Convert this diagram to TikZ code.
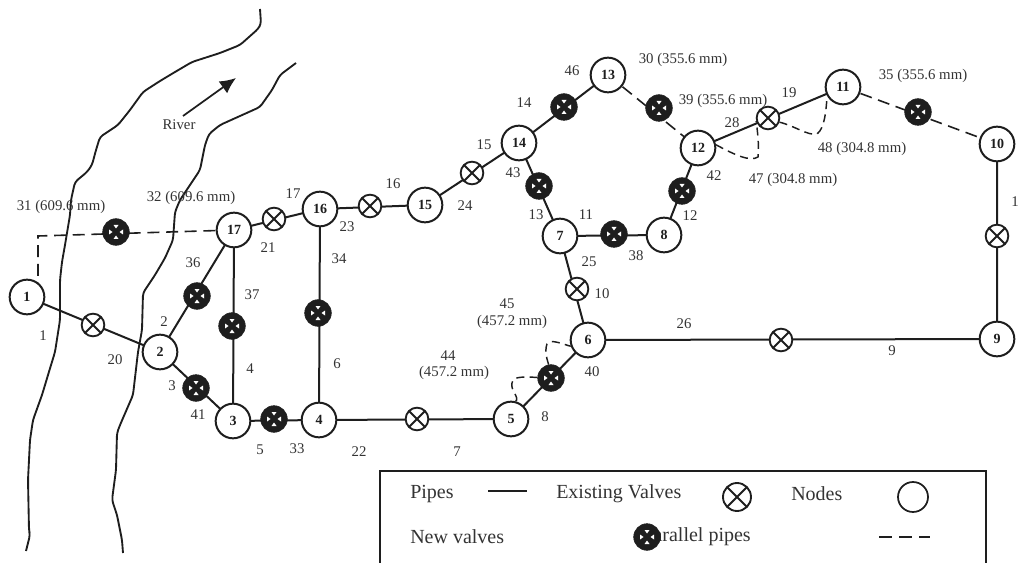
\documentclass[tikz,border=0pt]{standalone}
\usepackage{fontspec}
\setmainfont{Liberation Serif}
\usetikzlibrary{arrows.meta}
\definecolor{ink}{HTML}{1E1E1E}
\definecolor{txt}{HTML}{333333}
\tikzset{
  pnode/.style={circle,draw=ink,line width=1.5pt,fill=white,minimum size=26,inner sep=0pt,font=\fontsize{10.5pt}{12pt}\selectfont\bfseries,text=ink},
  evalve/.style={circle,draw=ink,line width=1.4pt,fill=white,minimum size=17,inner sep=0pt,
    path picture={\draw[ink,line width=1.4pt] (path picture bounding box.south west)--(path picture bounding box.north east) (path picture bounding box.north west)--(path picture bounding box.south east);}},
  nvalve/.style={circle,draw=ink,line width=0.4pt,fill=ink,minimum size=20,inner sep=0pt,
    path picture={\fill[white,shift={(path picture bounding box.center)}]
      (-3.5,0)--(-7,-2.5)--(-7,2.5)--cycle (3.5,0)--(7,-2.5)--(7,2.5)--cycle
      (0,-3.5)--(-2.5,-7)--(2.5,-7)--cycle (0,3.5)--(-2.5,7)--(2.5,7)--cycle;}},
  pipe/.style={draw=ink,line width=1.5pt},
  pdash/.style={draw=ink,line width=1.2pt,dash pattern=on 9pt off 5pt},
  cdash/.style={draw=ink,line width=1.1pt,dash pattern=on 6pt off 4pt},
  bank/.style={draw=ink,line width=1.4pt,line join=round,rounded corners=2.5pt},
  lab/.style={font=\fontsize{11.1pt}{13pt}\selectfont,text=txt,inner sep=0pt},
  leg/.style={font=\fontsize{15pt}{17pt}\selectfont,text=txt,inner sep=0pt},
}
\begin{document}
\begin{tikzpicture}[x=0.75pt,y=-0.75pt]
\useasboundingbox (0,0) rectangle (1018,563);
\clip (0,0) rectangle (1018,563);
% river
\draw[bank] (260,9)--(261,24)--(258,29)--(240,45)--(220,53)--(192,62)--(175,72)--(160,81)--(143,92)--(130,110)--(118,125)--(100,137)--(96,150)--(92,165)--(87,172)--(75,182)--(71,200)--(70,215)--(65,245)--(62,262)--(60,280)--(60,320)--(55,352)--(48,375)--(42,395)--(33,420)--(30,440)--(28,480)--(29,530)--(30,535)--(26,551);
\draw[bank] (296,63)--(280,75)--(272,90)--(260,107)--(240,116)--(220,125)--(209,134)--(205,145)--(200,170)--(190,185)--(180,200)--(175,212)--(173,240)--(165,258)--(155,275)--(143,293)--(142,330)--(138,352)--(133,395)--(120,425)--(117,433)--(116,470)--(112,500)--(117,515)--(122,540)--(123,553);
\coordinate (ra) at (183,116);
\coordinate (rb) at (236,78);
\draw[draw=ink,line width=1.3pt,-{Latex[length=12,width=11]}] (ra)--(rb);
\node[lab] (river) at (179,125) {River};
% coordinates of nodes
\coordinate (c1) at (27,297); \coordinate (c2) at (160,352); \coordinate (c3) at (233,421);
\coordinate (c4) at (319,420); \coordinate (c5) at (511,419); \coordinate (c6) at (588,340);
\coordinate (c7) at (560,236); \coordinate (c8) at (664,235); \coordinate (c9) at (997,339);
\coordinate (c10) at (997,144); \coordinate (c11) at (843,87); \coordinate (c12) at (698,148);
\coordinate (c13) at (608,75); \coordinate (c14) at (519,143); \coordinate (c15) at (425,205);
\coordinate (c16) at (320,209); \coordinate (c17) at (234,230); \coordinate (corner) at (38,236);
% pipes
\draw[pipe] (c1)--(c2) (c2)--(c17) (c2)--(c3) (c17)--(c3) (c16)--(c4) (c3)--(c4) (c4)--(c5) (c5)--(c6) (c6)--(c7) (c6)--(c9) (c9)--(c10) (c7)--(c14) (c7)--(c8) (c8)--(c12) (c12)--(c11) (c14)--(c13) (c14)--(c15) (c15)--(c16) (c16)--(c17);
\draw[pdash] (c17)--(corner)--(corner|-c1);
\draw[pdash] (c13)--(c12);
\draw[pdash] (c11)--(c10);
% nodes
\foreach \n in {1,...,17} {\node[pnode] (n\n) at (c\n) {\n};}
% existing valves
\node[evalve] (v20) at (93,325) {};
\node[evalve] (v21) at (274,219) {};
\node[evalve] (v23) at (370,206) {};
\node[evalve] (v24) at (472,173) {};
\node[evalve] (v25) at (577,289) {};
\node[evalve] (v22) at (417,419) {};
\node[evalve] (v26) at (781,340) {};
\node[evalve] (v28) at (768,118) {};
\node[evalve] (v27) at (997,236) {};
% new valves
\node[nvalve] (w31) at (116,232) {};
\node[nvalve] (w36) at (197,296) {};
\node[nvalve] (w37) at (232,326) {};
\node[nvalve] (w34) at (318,313) {};
\node[nvalve] (w41) at (196,388) {};
\node[nvalve] (w33) at (274,419) {};
\node[nvalve] (w40) at (551,378) {};
\node[nvalve] (w43) at (539,186) {};
\node[nvalve] (w38) at (614,234) {};
\node[nvalve] (w42) at (682,191) {};
\node[nvalve] (w46) at (564,107) {};
\node[nvalve] (w39) at (659,108) {};
\node[nvalve] (w35) at (918,112) {};
% curved parallel pipes
\draw[cdash] (n12.10) .. controls (735,155) and (750,162) .. (758,157) .. controls (759,145) and (758,135) .. (v28.195);
\draw[cdash] (v28.-20) .. controls (795,126) and (808,136) .. (817,134) .. controls (825,128) and (826,110) .. (n11.-150);
\draw[cdash] (n5.75) .. controls (520,398) and (510,390) .. (512,383) .. controls (512,378) and (518,376) .. (w40.178);
\draw[cdash] (w40.100) .. controls (548,362) and (544,352) .. (547,344) .. controls (550,338) and (565,345) .. (n6.200);
% labels
\node[lab] (l31) at (61,207) {31 (609.6 mm)};
\node[lab] (l32) at (191,198) {32 (609.6 mm)};
\node[lab] (l17) at (293,194) {17};
\node[lab] (l21) at (268,248) {21};
\node[lab] (l36) at (193,263) {36};
\node[lab] (l37) at (252,295) {37};
\node[lab] (l34) at (339,259) {34};
\node[lab] (l2) at (164,322) {2};
\node[lab] (l1) at (43,336) {1};
\node[lab] (l20) at (115,360) {20};
\node[lab] (l3) at (172,386) {3};
\node[lab] (l41) at (198,415) {41};
\node[lab] (l4) at (250,369) {4};
\node[lab] (l6) at (337,364) {6};
\node[lab] (l5) at (260,450) {5};
\node[lab] (l33) at (297,449) {33};
\node[lab] (l22) at (359,452) {22};
\node[lab] (l7) at (457,452) {7};
\node[lab] (l8) at (545,417) {8};
\node[lab] (l40) at (592,372) {40};
\node[lab] (l44) at (448,356) {44};
\node[lab] (l44b) at (454,373) {(457.2 mm)};
\node[lab] (l45) at (507,304) {45};
\node[lab] (l45b) at (512,322) {(457.2 mm)};
\node[lab] (l26) at (684,324) {26};
\node[lab] (l9) at (892,351) {9};
\node[lab] (l10) at (602,294) {10};
\node[lab] (l25) at (589,262) {25};
\node[lab] (l13) at (536,215) {13};
\node[lab] (l11) at (586,215) {11};
\node[lab] (l38) at (636,256) {38};
\node[lab] (l43) at (513,173) {43};
\node[lab] (l15) at (484,145) {15};
\node[lab] (l14) at (524,103) {14};
\node[lab] (l46) at (572,71) {46};
\node[lab] (l16) at (393,184) {16};
\node[lab] (l24) at (465,206) {24};
\node[lab] (l23) at (347,227) {23};
\node[lab] (l30) at (683,60) {30 (355.6 mm)};
\node[lab] (l39) at (723,101) {39 (355.6 mm)};
\node[lab] (l19) at (789,93) {19};
\node[lab] (l28) at (732,123) {28};
\node[lab] (l35) at (923,76) {35 (355.6 mm)};
\node[lab] (l48) at (862,149) {48 (304.8 mm)};
\node[lab] (l47) at (793,180) {47 (304.8 mm)};
\node[lab] (l42) at (714,176) {42};
\node[lab] (l12) at (690,216) {12};
\node[lab,anchor=west] (l18) at (1011,202) {18};
% legend
\coordinate (bl) at (380,563); \coordinate (tl) at (380,471);
\coordinate (tr) at (986,471); \coordinate (br) at (986,563);
\draw[draw=ink,line width=1.5pt] (bl)--(tl)--(tr)--(br);
\node[leg,anchor=west] (tp) at (410,494) {Pipes};
\coordinate (lp1) at (488,491); \coordinate (lp2) at (527,491);
\draw[pipe] (lp1)--(lp2);
\node[leg,anchor=west] (te) at (556,494) {Existing Valves};
\node[evalve,minimum size=21] (lv) at (737,497) {};
\node[leg,anchor=west] (tn) at (791,494) {Nodes};
\node[circle,draw=ink,line width=1.3pt,minimum size=22.5,inner sep=0pt] (ln) at (913,497) {};
\node[leg,anchor=west] (tnv) at (410,537) {New valves};
\node[leg,anchor=east] (tpp) at (751,537) {Parallel pipes};
\node[nvalve] (lw) at (647,537) {};
\coordinate (ld1) at (879,537); \coordinate (ld2) at (930,537);
\draw[draw=ink,line width=1.1pt,dash pattern=on 10pt off 5pt] (ld1)--(ld2);
\end{tikzpicture}
\end{document}
